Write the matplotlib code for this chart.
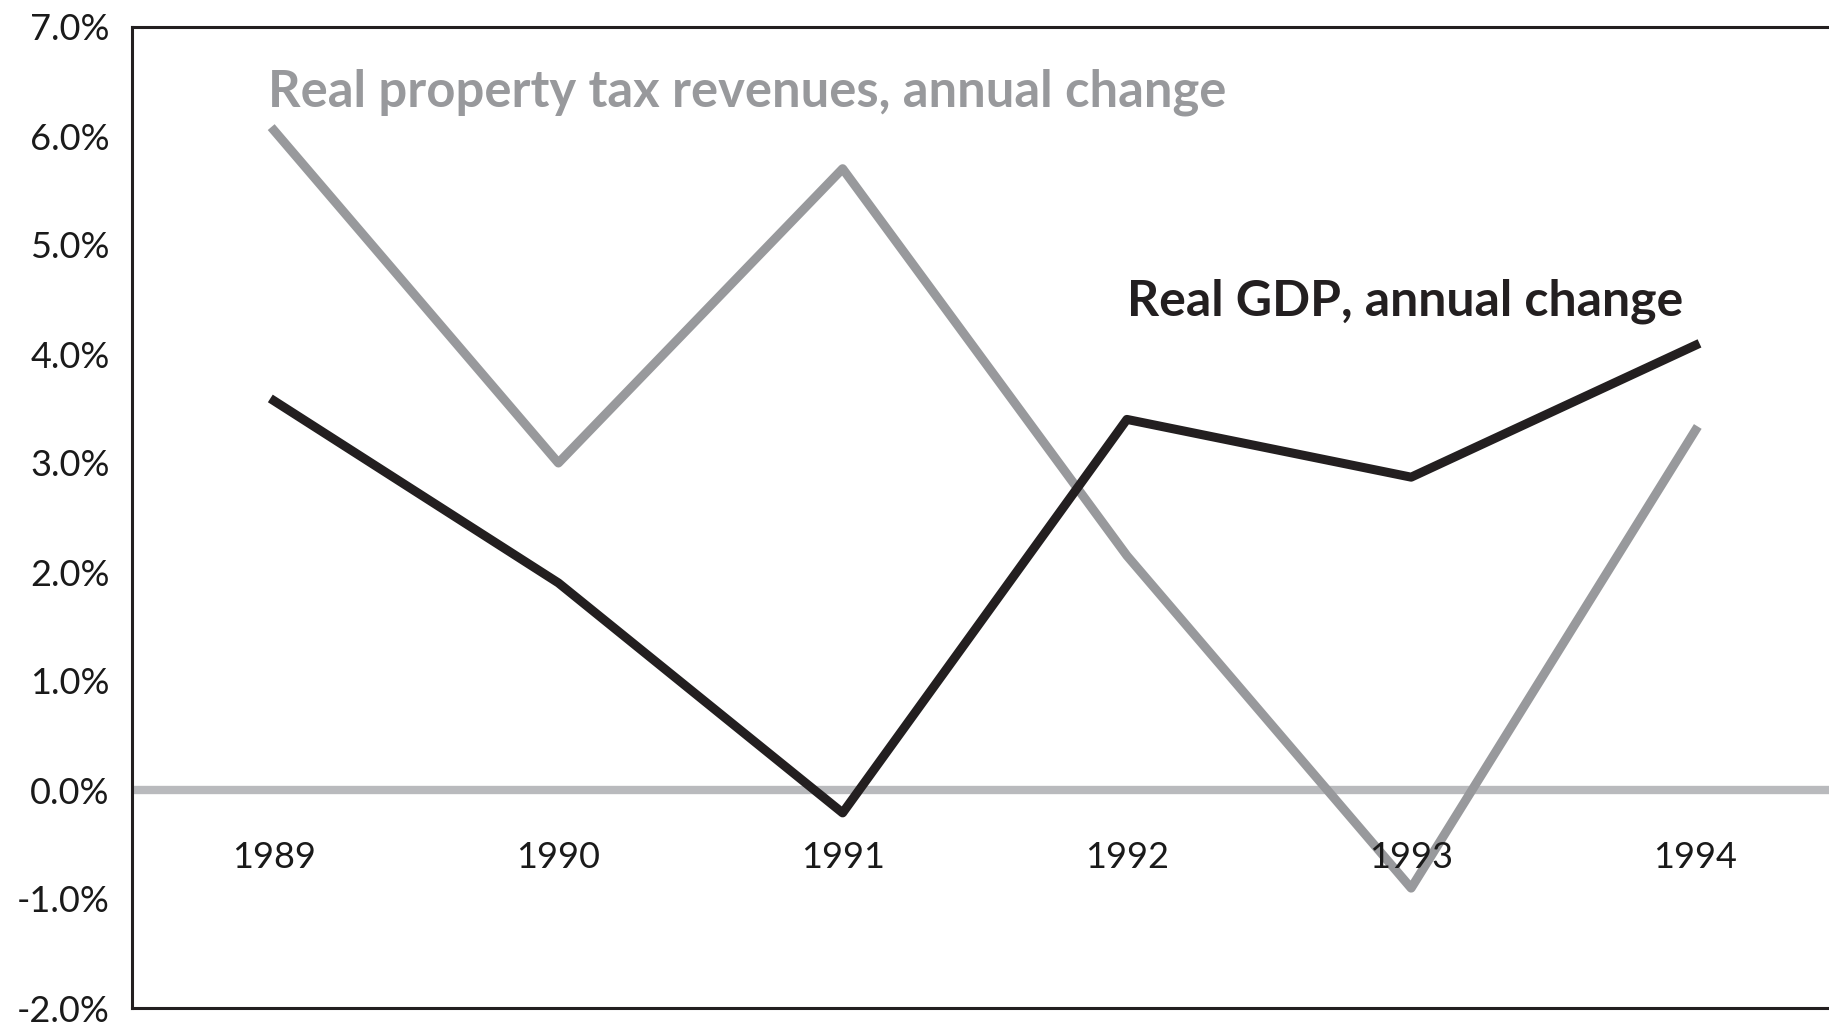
import matplotlib
matplotlib.use("Agg")
import matplotlib.pyplot as plt
from matplotlib.ticker import FuncFormatter

# -----------------------------
# Data (annual change, %)
# -----------------------------

years = [1989, 1990, 1991, 1992, 1993, 1994]
property_tax = [6.05, 3.0, 5.7, 2.15, -0.9, 3.3]
real_gdp = [3.57, 1.9, -0.21, 3.4, 2.87, 4.08]
y_ticks = [-2, -1, 0, 1, 2, 3, 4, 5, 6, 7]

tax_label = "Real property tax revenues, annual change"
gdp_label = "Real GDP, annual change"

# -----------------------------
# Style
# -----------------------------

plt.rcParams["font.family"] = ["Lato", "DejaVu Sans"]

GRAY = "#98999c"
ZERO = "#b9babd"
BLACK = "#231f20"

fig = plt.figure(figsize=(18.29, 10.24), dpi=100)
ax = fig.add_axes([132 / 1829, 16 / 1024, 1 - 132 / 1829, 981 / 1024])

ax.axhline(0, color=ZERO, linewidth=6, zorder=1)

ax.plot(years, property_tax, color=GRAY, linewidth=6.5, zorder=2)
ax.plot(years, real_gdp, color=BLACK, linewidth=6.5, zorder=3)

ax.set_xlim(1988.5, 1994.47)
ax.set_ylim(-2, 7)

# -----------------------------
# Axes / ticks
# -----------------------------

ax.set_yticks(y_ticks)
ax.yaxis.set_major_formatter(FuncFormatter(lambda v, _: f"{v:.1f}%"))
ax.tick_params(axis="y", length=0, pad=16, labelsize=26, labelcolor="#1a1a1a")
ax.set_xticks([])

for year in years:
    ax.text(year, -0.62, str(year), ha="center", va="center",
            fontsize=26, color="#1a1a1a", zorder=4)

for side in ["left", "top", "bottom"]:
    ax.spines[side].set_linewidth(2.2)
    ax.spines[side].set_color(BLACK)
ax.spines["right"].set_visible(False)

# -----------------------------
# Series labels
# -----------------------------

ax.text(years[0] - 0.02, 6.4, tax_label, ha="left", va="center",
        fontsize=36.5, fontweight="bold", color=GRAY)
ax.text(1992.0, 4.48, gdp_label, ha="left", va="center",
        fontsize=36, fontweight="bold", color=BLACK)

fig.savefig("out.png", dpi=100)
